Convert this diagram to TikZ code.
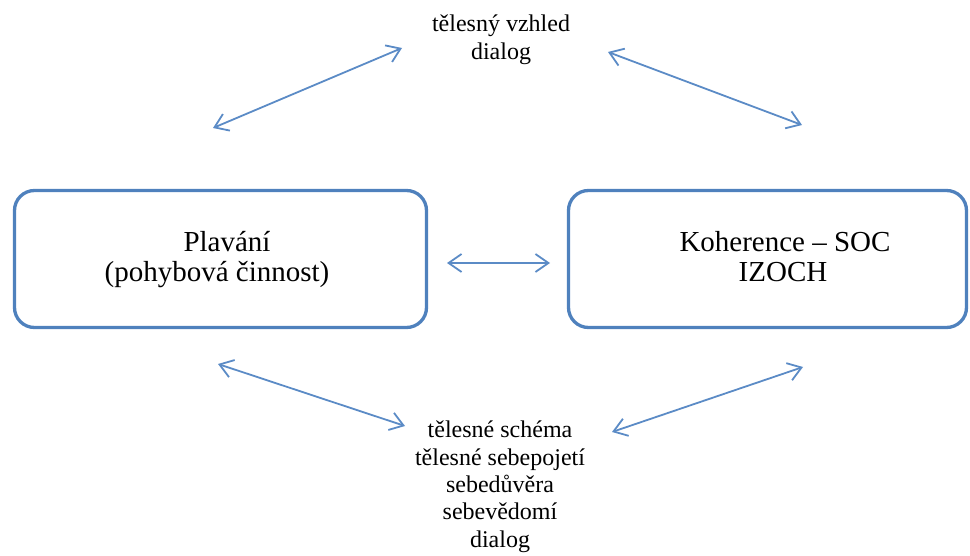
\documentclass[tikz,border=0pt]{standalone}
\usepackage{fontspec}
\setmainfont{Liberation Serif}
\usetikzlibrary{arrows.meta}
\definecolor{boxblue}{HTML}{4F81BD}
\definecolor{arrblue}{HTML}{5B8BC6}
\begin{document}
\begin{tikzpicture}[x=1pt,y=-1pt,
  roundbox/.style={draw=boxblue, line width=3.3pt, rounded corners=20pt, inner sep=0pt},
  bigtext/.style={font=\fontsize{29}{30}\selectfont, align=center, inner sep=0pt, anchor=base},
  smalltext/.style={font=\fontsize{24}{27.5}\selectfont, align=center, inner sep=0pt, anchor=base},
  link/.style={draw=arrblue, line width=1.8pt, {Straight Barb[length=13pt,width=18pt]}-{Straight Barb[length=13pt,width=18pt]}}
]
\useasboundingbox (0,0) rectangle (970,556);
% boxes
\node[roundbox, minimum width=412pt, minimum height=137pt] (plav) at (220.5,259) {};
\node[roundbox, minimum width=398pt, minimum height=137pt] (koh) at (767.5,259) {};
% box texts
\node[bigtext] (plavt1) at (227,252) {Plavání};
\node[bigtext] (plavt2) at (217,282) {(pohybová činnost)};
\node[bigtext] (koht1) at (785,252) {Koherence – SOC};
\node[bigtext] (koht2) at (783,282) {IZOCH};
% top text
\node[smalltext] (top1) at (501,32) {tělesný vzhled};
\node[smalltext] (top2) at (501,60) {dialog};
% bottom text
\node[smalltext] (b1) at (500,437) {tělesné schéma};
\node[smalltext] (b2) at (500,465) {tělesné sebepojetí};
\node[smalltext] (b3) at (500,492) {sebedůvěra};
\node[smalltext] (b4) at (500,519) {sebevědomí};
\node[smalltext] (b5) at (500,547) {dialog};
% arrow end points
\coordinate (tlA) at (213,128);
\coordinate (tlB) at (402,48);
\coordinate (trA) at (608,52);
\coordinate (trB) at (802,125);
\coordinate (mA) at (447,263);
\coordinate (mB) at (550,263);
\coordinate (blA) at (218,364);
\coordinate (blB) at (405,426);
\coordinate (brA) at (803,367);
\coordinate (brB) at (612,432);
% arrows
\draw[link] (tlA) -- (tlB);
\draw[link] (trA) -- (trB);
\draw[link] (mA) -- (mB);
\draw[link] (blA) -- (blB);
\draw[link] (brA) -- (brB);
\end{tikzpicture}
\end{document}
